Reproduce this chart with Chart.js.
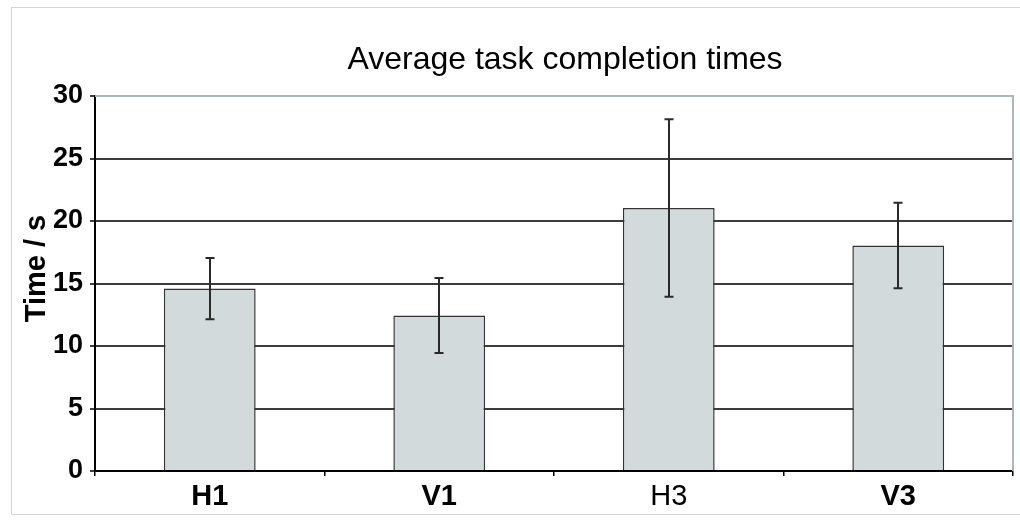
<!DOCTYPE html>
<html>
<head>
<meta charset="utf-8">
<script src="https://cdn.jsdelivr.net/npm/chart.js@4.4.1/dist/chart.umd.min.js"></script>
<style>
  html, body { margin: 0; padding: 0; background: #fff; }
  #wrap { position: relative; width: 1020px; height: 523px; overflow: hidden; }
  #frame { position: absolute; left: 11px; top: 7px; width: 1100px; height: 508px;
           border: 1px solid #d4d4d4; box-sizing: border-box; }
  canvas { position: absolute; left: 0; top: 0; }
</style>
</head>
<body>
<div id="wrap">
  <div id="frame"></div>
  <canvas id="c" width="1020" height="523"></canvas>
</div>
<script>
// Conditions and their mean completion times (seconds)
const categories = ['H1', 'V1', 'H3', 'V3'];
const meanTimes = [14.6, 12.45, 21.05, 18.05];
// Error bar half-lengths (seconds)
const errorSizes = [2.45, 3.0, 7.1, 3.42];
// Category label weights
const labelWeights = ['bold', 'bold', 'normal', 'bold'];
const yTicks = [0, 5, 10, 15, 20, 25, 30];
const chartTitle = 'Average task completion times';
const yAxisTitle = 'Time / s';

const FONT = '"Liberation Sans", Arial, sans-serif';

// Error bars with caps, drawn over each bar
const errorBars = {
  id: 'errorBars',
  afterDatasetsDraw(chart) {
    const ctx = chart.ctx;
    const y = chart.scales.y;
    const meta = chart.getDatasetMeta(0);
    ctx.save();
    ctx.strokeStyle = '#2a2a2a';
    ctx.lineWidth = 2;
    meta.data.forEach((bar, i) => {
      const x = Math.round(bar.x);
      const top = y.getPixelForValue(meanTimes[i] + errorSizes[i]);
      const bot = y.getPixelForValue(meanTimes[i] - errorSizes[i]);
      ctx.beginPath();
      ctx.moveTo(x, top); ctx.lineTo(x, bot);
      ctx.moveTo(x - 4.5, top); ctx.lineTo(x + 4.5, top);
      ctx.moveTo(x - 4.5, bot); ctx.lineTo(x + 4.5, bot);
      ctx.stroke();
    });
    ctx.restore();
  }
};

// Light top and right edges of the plot area
const plotFrame = {
  id: 'plotFrame',
  beforeDatasetsDraw(chart) {
    const { ctx, chartArea: a } = chart;
    ctx.save();
    ctx.strokeStyle = '#a9b8b8';
    ctx.lineWidth = 2;
    ctx.beginPath();
    ctx.moveTo(a.left, a.top);
    ctx.lineTo(a.right, a.top);
    ctx.lineTo(a.right, a.bottom);
    ctx.stroke();
    ctx.restore();
  }
};

// Chart title and rotated y-axis title
const titles = {
  id: 'titles',
  afterDraw(chart) {
    const { ctx, chartArea: a } = chart;
    ctx.save();
    ctx.fillStyle = '#000';
    ctx.textAlign = 'center';
    ctx.textBaseline = 'alphabetic';
    ctx.font = 'normal 32px ' + FONT;
    ctx.fillText(chartTitle, (a.left + a.right) / 2 + 11, 69);

    ctx.translate(45, (a.top + a.bottom) / 2 - 15);
    ctx.rotate(-Math.PI / 2);
    ctx.font = 'bold 29px ' + FONT;
    ctx.fillText(yAxisTitle, 0, 0);
    ctx.restore();
  }
};

new Chart(document.getElementById('c'), {
  type: 'bar',
  data: {
    labels: categories,
    datasets: [{
      data: meanTimes,
      backgroundColor: '#d2dadb',
      borderColor: '#333333',
      borderWidth: 1.5,
      barPercentage: 0.4,
      categoryPercentage: 1.0
    }]
  },
  options: {
    responsive: false,
    animation: false,
    devicePixelRatio: 1,
    layout: { padding: { left: 0, right: 7, top: 96, bottom: 0 } },
    plugins: {
      legend: { display: false },
      tooltip: { enabled: false },
      title: { display: false }
    },
    scales: {
      x: {
        grid: {
          display: true,
          drawOnChartArea: false,
          tickLength: 5,
          color: '#000',
          lineWidth: 1.5
        },
        border: { display: true, color: '#000', width: 2 },
        ticks: {
          color: '#000',
          padding: 4,
          font: (ctx) => ({ family: FONT, size: 29, weight: labelWeights[ctx.index] || 'bold' })
        },
        afterFit(scale) { scale.height = 52; }
      },
      y: {
        min: 0,
        max: 30,
        afterBuildTicks(scale) { scale.ticks = yTicks.map(v => ({ value: v })); },
        grid: {
          color: (ctx) => (ctx.tick && ctx.tick.value === 30) ? '#a9b8b8' : '#3c3c3c',
          lineWidth: 2,
          tickLength: 5,
          tickColor: '#000',
          tickWidth: 1.5
        },
        border: { display: true, color: '#000', width: 2 },
        ticks: {
          color: '#000',
          padding: 7,
          font: { family: FONT, size: 27, weight: 'bold' }
        },
        afterFit(scale) { scale.width = 95; }
      }
    }
  },
  plugins: [plotFrame, errorBars, titles]
});
</script>
</body>
</html>
